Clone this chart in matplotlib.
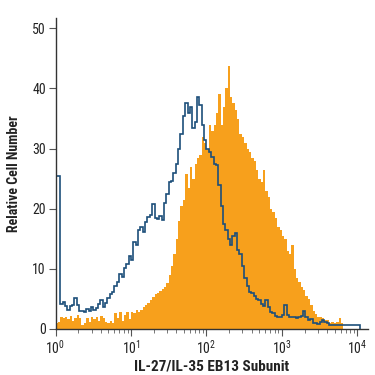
import numpy as np
import matplotlib
matplotlib.use("Agg")
import matplotlib.pyplot as plt
from matplotlib import font_manager
from matplotlib.ticker import LogLocator, FixedLocator, NullFormatter

available = {f.name for f in font_manager.fontManager.ttflist}
cands = ['Liberation Sans Narrow', 'DejaVu Sans Condensed', 'Roboto Condensed',
         'Open Sans Condensed', 'Noto Sans', 'DejaVu Sans']
chosen = [c for c in cands if c in available]
main = chosen[0]
plt.rcParams['font.family'] = chosen
plt.rcParams['mathtext.fontset'] = 'custom'
plt.rcParams['mathtext.rm'] = main
plt.rcParams['mathtext.it'] = main
plt.rcParams['mathtext.bf'] = main + ':bold'

# Histogram channels: 32 bins per decade starting at 10^0
bins_per_decade = 32

stained = [1.0, 1.2, 2.0, 1.8, 2.0, 1.6, 2.1, 1.4, 1.8, 2.4,
           1.8, 0.6, 1.0, 1.8, 1.2, 2.0, 1.6, 2.0, 1.4, 2.2,
           1.8, 1.2, 1.0, 1.4, 1.0, 2.6, 1.8, 2.8, 1.4, 2.4,
           2.8, 1.6, 2.8, 2.6, 3.2, 2.8, 3.2, 3.6, 4.0, 4.4,
           4.8, 5.4, 5.8, 6.0, 6.4, 6.6, 7.0, 7.6, 9.0, 10.5,
           12.5, 15.0, 18.0, 20.5, 21.5, 25.8, 23.5, 27.0, 25.0, 27.5,
           28.5, 29.0, 32.0, 31.0, 30.0, 34.0, 33.0, 34.0, 36.0, 39.0,
           34.0, 37.0, 40.0, 43.8, 38.5, 37.5, 36.5, 35.0, 32.5, 32.0,
           31.0, 30.0, 29.5, 28.5, 28.0, 26.5, 25.0, 24.5, 26.5, 23.0,
           22.0, 20.0, 19.5, 18.5, 17.0, 16.5, 15.5, 15.0, 13.0, 12.5,
           14.0, 10.0, 8.5, 7.8, 7.0, 6.5, 5.5, 5.0, 4.0, 3.0,
           2.5, 2.0, 2.0, 1.8, 1.5, 1.5, 1.0, 1.2, 1.0, 1.2,
           1.8, 1.0]

isotype = [25.5, 25.5, 4.2, 4.5, 3.8, 3.2, 3.8, 4.0, 5.2, 4.0,
           3.0, 3.0, 2.9, 3.4, 3.0, 3.6, 3.2, 3.5, 4.2, 4.8,
           3.6, 4.4, 5.2, 5.8, 6.2, 7.2, 7.8, 9.2, 8.6, 10.2,
           10.8, 12.2, 11.5, 14.5, 14.0, 16.5, 17.0, 16.2, 17.8, 18.6,
           19.0, 20.8, 18.5, 18.3, 18.8, 18.2, 21.0, 22.5, 24.5, 24.6,
           26.0, 27.5, 30.0, 32.5, 35.5, 37.5, 36.0, 37.0, 33.5, 34.5,
           38.6, 37.2, 34.0, 31.5, 30.0, 29.4, 28.6, 27.5, 27.2, 24.0,
           20.5, 17.5, 16.4, 15.0, 14.0, 15.5, 16.0, 13.2, 12.5, 10.5,
           8.5, 7.2, 6.2, 6.0, 5.5, 5.0, 4.8, 4.2, 3.8, 4.8,
           3.6, 2.8, 2.6, 2.2, 2.0, 2.0, 2.4, 4.0, 2.4, 2.0,
           2.0, 2.0, 1.9, 2.0, 2.2, 3.0, 2.0, 1.5, 1.6, 1.0,
           1.0, 0.8, 1.2, 1.5, 1.2, 1.0, 0.7, 0.7, 0.7, 0.7,
           0.7, 0.7, 0.7, 0.7, 0.7, 0.7, 0.7, 0.7, 0.7]

y_ticks = [0, 10, 20, 30, 40, 50]
x_label = "IL-27/IL-35 EB13 Subunit"
y_label = "Relative Cell Number"

edges_s = 10 ** (np.arange(len(stained) + 1) / bins_per_decade)
edges_i = 10 ** (np.arange(len(isotype) + 1) / bins_per_decade)

fig = plt.figure(figsize=(3.75, 3.75), dpi=100)
ax = fig.add_axes([0.148, 0.1227, 0.833, 0.829])

ax.stairs(stained, edges_s, fill=True, color='#F7A01C', linewidth=0)
ax.stairs(isotype, edges_i, fill=False, color='#1D4F7A', linewidth=1.2)

ax.set_xscale('log')
ax.set_xlim(1, 10 ** 4.139)
ax.set_ylim(0, 51.7)

ax.xaxis.set_major_locator(FixedLocator([1, 10, 100, 1000, 10000]))
ax.xaxis.set_minor_locator(LogLocator(base=10, subs=np.arange(2, 10), numticks=20))
ax.xaxis.set_minor_formatter(NullFormatter())
ax.set_xticklabels([r'$10^{0}$', r'$10^{1}$', r'$10^{2}$', r'$10^{3}$', r'$10^{4}$'])
ax.set_yticks(y_ticks)

for s in ['top', 'right']:
    ax.spines[s].set_visible(False)
for s in ['left', 'bottom']:
    ax.spines[s].set_color('#333333')
    ax.spines[s].set_linewidth(1.0)

ax.tick_params(axis='both', which='major', direction='out', length=5, width=0.8,
               color='#555555', labelsize=10, labelcolor='#222222', pad=2)
ax.tick_params(axis='x', which='minor', direction='out', length=3, width=0.7, color='#777777')

ax.set_xlabel(x_label, fontsize=11, fontweight='bold', color='#222222', labelpad=2)
ax.set_ylabel(y_label, fontsize=10, fontweight='bold', color='#222222', labelpad=8)

fig.savefig('out.png', dpi=100, facecolor='white')
